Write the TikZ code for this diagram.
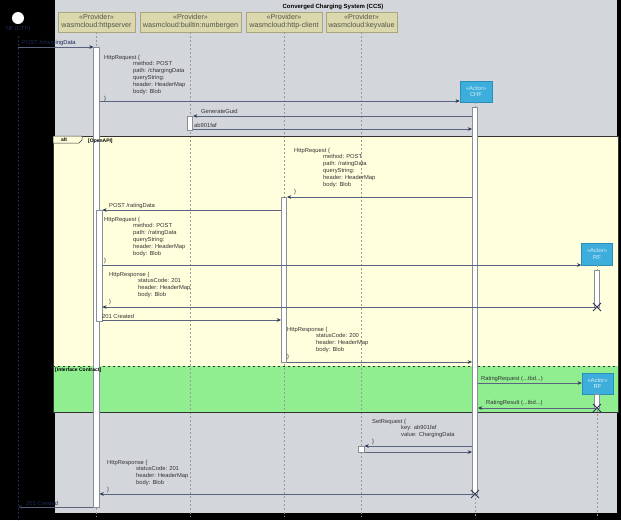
\documentclass[tikz,border=0pt]{standalone}
\usepackage{fontspec}
\setmainfont{Liberation Sans}
\usetikzlibrary{arrows.meta}

\definecolor{ccsgrey}{HTML}{D3D6DB}
\definecolor{altyellow}{HTML}{FFFFDD}
\definecolor{altgreen}{HTML}{90EE90}
\definecolor{partfill}{HTML}{DAD8AC}
\definecolor{partline}{HTML}{A9A67C}
\definecolor{parttext}{HTML}{55554A}
\definecolor{actorfill}{HTML}{3DAEDB}
\definecolor{actorline}{HTML}{2A8DBA}
\definecolor{actortext}{HTML}{D8EEF8}
\definecolor{msgline}{HTML}{5A6480}
\definecolor{tipcol}{HTML}{2D3655}
\definecolor{lifecol}{HTML}{9A9A9A}
\definecolor{actline}{HTML}{8A8E96}
\definecolor{labeltext}{HTML}{333333}
\definecolor{navy}{HTML}{1F2A55}
\definecolor{framecol}{HTML}{333333}

\tikzset{
  msg/.style={draw=msgline, line width=0.6pt, -{Stealth[length=4.2pt,width=3.6pt,color=tipcol]}},
  lifeline/.style={draw=lifecol, line width=0.5pt, dash pattern=on 2pt off 2pt},
  actbar/.style={draw=actline, fill=white, line width=0.6pt, inner sep=0pt, minimum width=5.5pt, anchor=north},
  provider/.style={draw=partline, fill=partfill, line width=0.5pt, text=parttext, align=center,
    font=\fontsize{7.2}{8}\selectfont, inner sep=0pt, minimum height=20pt},
  actorbox/.style={draw=actorline, fill=actorfill, line width=0.5pt, text=actortext, align=center,
    font=\fontsize{5.8}{6.6}\selectfont, inner sep=0pt, minimum width=32pt, minimum height=21pt},
  lbl/.style={text=labeltext, font=\fontsize{5.8}{6.9}\selectfont, inner sep=0pt, align=left, anchor=north west},
  lbl1/.style={text=labeltext, font=\fontsize{5.8}{6.9}\selectfont, inner sep=0pt, anchor=west},
  guard/.style={text=black, font=\bfseries\fontsize{5}{6}\selectfont, inner sep=0pt, anchor=west},
  destroy/.style={draw=tipcol, line width=0.8pt},
}

\newcommand{\ind}{\hspace*{29pt}}

\begin{document}
\begin{tikzpicture}[x=1pt,y=-1pt]
\useasboundingbox (0,0) rectangle (621,520);
\fill[black] (0,0) rectangle (621,520);

% system boundary
\fill[ccsgrey] (55,0) rectangle (617,513);
\node[font=\bfseries\fontsize{6}{7}\selectfont, text=black, inner sep=0pt] (title) at (333,7) {Converged Charging System (CCS)};

% alt fragment background
\fill[altyellow] (53,136) rectangle (618,366);
\fill[altgreen] (53,366) rectangle (618,412);

% participants
\node[provider, minimum width=77pt] (hs) at (96.5,22) {«Provider»\\wasmcloud:httpserver};
\node[provider, minimum width=101pt] (ng) at (190.5,22) {«Provider»\\wasmcloud:builtin:numbergen};
\node[provider, minimum width=76pt] (hc) at (284,22) {«Provider»\\wasmcloud:http-client};
\node[provider, minimum width=71pt] (kv) at (361.5,22) {«Provider»\\wasmcloud:keyvalue};

% external actor
\node[circle, fill=white, minimum size=12pt, inner sep=0pt] (nf) at (18,18) {};
\node[text=navy, font=\fontsize{5.8}{7}\selectfont, inner sep=0pt] (nflbl) at (18,29) {NF (CTF)};
\coordinate (nfTop) at (18,36);
\coordinate (nfEnd) at (18,520);
\coordinate (nfIn) at (18,47);
\coordinate (nfOut) at (18,507);

% lifelines
\draw[lifeline, draw=navy] (nfTop) -- (nfEnd);
\draw[lifeline] (hs.south) -- (hs.south |- 0,517);
\draw[lifeline] (ng.south) -- (ng.south |- 0,517);
\draw[lifeline] (hc.south) -- (hc.south |- 0,517);
\draw[lifeline] (kv.south) -- (kv.south |- 0,517);

% actors created on demand
\node[actorbox] (chf) at (476,91.5) {«Actor»\\CHF};
\node[actorbox, minimum width=31pt, minimum height=22pt] (rf1) at (597,254) {«Actor»\\RF};
\node[actorbox, minimum width=31pt] (rf2) at (597.5,383.5) {«Actor»\\RF};
\draw[lifeline] (chf.south -| 475,0) -- (475,517);
\draw[lifeline] (rf1.south -| 597,0) -- (597,270);
\draw[lifeline] (rf2.south -| 597,0) -- (597,517);

% alt fragment frame
\draw[framecol, line width=0.8pt] (53,136) rectangle (618,412);
\draw[framecol, line width=0.6pt, dash pattern=on 2pt off 3pt] (53,366) -- (618,366);
\filldraw[fill=altyellow, draw=framecol, line width=0.5pt] (53,136) -- (82,136) -- (82,140) -- (79,143) -- (53,143) -- cycle;
\node[guard] (altlbl) at (61,139.8) {alt};

% activations
\node[actbar, minimum height=460pt] (hsA) at (96.5,47) {};
\node[actbar, minimum height=111pt] (hsB) at (99.3,210) {};
\node[actbar, minimum height=14pt] (ngA) at (190,116) {};
\node[actbar, minimum height=165pt] (hcA) at (284,197) {};
\node[actbar, minimum height=387pt] (chfA) at (475,107) {};
\node[actbar, minimum height=6pt] (kvA) at (361.5,446) {};
\node[actbar, minimum height=37pt, minimum width=5pt] (rfA) at (597,270) {};
\node[actbar, minimum height=14pt] (rfB) at (597,394) {};

% operand guards, set over the activation bars
\node[guard] (g1) at (88,141) {[OpenAPI]};
\node[guard] (g2) at (55,370) {[Interface Contract]};

% destruction points
\coordinate (x1) at (597,307);
\coordinate (x2) at (597,408);
\coordinate (x3) at (475,494);
\foreach \p in {x1,x2,x3}
  \draw[destroy] (\p) ++(-4,-4) -- ++(8,8) (\p) ++(-4,4) -- ++(8,-8);

% messages
\draw[msg] (nfIn) -- (hsA.west |- nfIn);
\node[lbl1, text=navy] (m1) at (22,43) {POST /chargingData};

\draw[msg] (hsA.east |- 0,101) -- (chf.west |- 0,101);
\node[lbl] (m2) at (104,54.6) {HttpRequest \{\\\ind method: POST\\\ind path: /chargingData\\\ind queryString:\\\ind header: HeaderMap\\\ind body: Blob\\\}};

\draw[msg] (chfA.west |- 0,116) -- (ngA.east |- 0,116);
\node[lbl1] (m3) at (201,111) {GenerateGuid};

\draw[msg] (ngA.east |- 0,129) -- (chfA.west |- 0,129);
\node[lbl1] (m4) at (194,125.5) {ab901faf};

\draw[msg] (chfA.west |- 0,197) -- (hcA.east |- 0,197);
\node[lbl] (m5) at (294,147.6) {HttpRequest \{\\\ind method: POST\\\ind path: /ratingData\\\ind queryString:\\\ind header: HeaderMap\\\ind body: Blob\\\}};

\draw[msg] (hcA.west |- 0,210) -- (hsB.east |- 0,210);
\node[lbl1] (m6) at (109,205.5) {POST /ratingData};

\draw[msg] (hsB.east |- 0,265) -- (rf1.west |- 0,265);
\node[lbl] (m7) at (104,216.6) {HttpRequest \{\\\ind method: POST\\\ind path: /ratingData\\\ind queryString:\\\ind header: HeaderMap\\\ind body: Blob\\\}};

\draw[msg] (x1) -- (hsB.east |- x1);
\node[lbl] (m8) at (109,271.6) {HttpResponse \{\\\ind statusCode: 201\\\ind header: HeaderMap\\\ind body: Blob\\\}};

\draw[msg] (hsB.east |- 0,320) -- (hcA.west |- 0,320);
\node[lbl1] (m9) at (102,316) {201 Created};

\draw[msg] (hcA.east |- 0,362) -- (chfA.west |- 0,362);
\node[lbl] (m10) at (287,326.6) {HttpResponse \{\\\ind statusCode: 200\\\ind header: HeaderMap\\\ind body: Blob\\\}};

\draw[msg] (chfA.east |- 0,383) -- (rf2.west |- 0,383);
\node[lbl1] (m11) at (481,378.5) {RatingRequest (...tbd...)};

\draw[msg] (x2) -- (chfA.east |- x2);
\node[lbl1] (m12) at (486,403) {RatingResult (...tbd...)};

\draw[msg] (chfA.west |- 0,446) -- (kvA.east |- 0,446);
\node[lbl] (m13) at (372,418.6) {SetRequest \{\\\ind key: ab901faf\\\ind value: ChargingData\\\}};

\draw[msg] (kvA.east |- 0,452) -- (chfA.west |- 0,452);

\draw[msg] (x3) -- (hsA.east |- x3);
\node[lbl] (m15) at (107,459.6) {HttpResponse \{\\\ind statusCode: 201\\\ind header: HeaderMap\\\ind body: Blob\\\}};

\draw[msg] (hsA.west |- nfOut) -- (nfOut);
\node[lbl1, text=navy] (m16) at (26,503) {201 Created};
\end{tikzpicture}
\end{document}
